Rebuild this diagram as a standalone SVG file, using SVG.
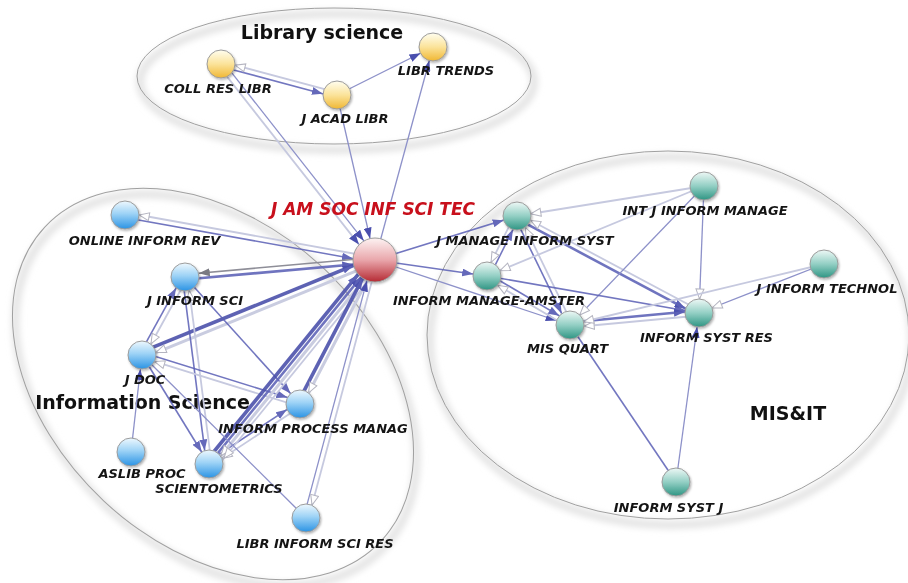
<svg xmlns="http://www.w3.org/2000/svg" width="908" height="583" viewBox="0 0 908 583">
<style>
.lbl{font-family:"DejaVu Sans","Liberation Sans",sans-serif;font-weight:bold;font-style:italic;font-size:13px;fill:#141414;text-anchor:middle}
.grp{font-family:"DejaVu Sans","Liberation Sans",sans-serif;font-weight:bold;font-size:19px;fill:#111;text-anchor:middle}
.ttl{font-family:"DejaVu Sans","Liberation Sans",sans-serif;font-weight:bold;font-style:italic;font-size:17px;fill:#c8101c;text-anchor:middle}
.cl{fill:none;stroke:#a0a0a0;stroke-width:1}
.cs{fill:none;stroke:#e4e4e4;stroke-width:8}
.nd{stroke:#9c9c9c;stroke-width:1;filter:url(#sh)}
line{fill:none}
.eb{stroke:#5a5fb5;stroke-width:1.6;opacity:.85}
.em{stroke:#8d91c9;stroke-width:1.3}
.el{stroke:#c6c9df;stroke-width:1.8}
.eg{stroke:#8e8e98;stroke-width:1.6}
.et{stroke:#4c51ab;stroke-width:3.6;opacity:.9}
.et2{stroke:#6065b8;stroke-width:2.6;opacity:.9}
.el3{stroke:#c9cce0;stroke-width:3}
</style>
<defs>
<filter id="sh" x="-30%" y="-30%" width="160%" height="160%"><feDropShadow dx="1" dy="1.5" stdDeviation="1" flood-color="#000" flood-opacity="0.3"/></filter>
<filter id="bl" x="-10%" y="-10%" width="120%" height="120%"><feGaussianBlur stdDeviation="3"/></filter>
<linearGradient id="gB" x1="0" y1="0" x2="0" y2="1"><stop offset="0" stop-color="#eef8fe"/><stop offset="0.45" stop-color="#9ed3f6"/><stop offset="1" stop-color="#2a93e4"/></linearGradient>
<linearGradient id="gY" x1="0" y1="0" x2="0" y2="1"><stop offset="0" stop-color="#fffef0"/><stop offset="0.5" stop-color="#fbe39a"/><stop offset="1" stop-color="#f0b733"/></linearGradient>
<linearGradient id="gT" x1="0" y1="0" x2="0" y2="1"><stop offset="0" stop-color="#eef8f6"/><stop offset="0.5" stop-color="#93cfc4"/><stop offset="1" stop-color="#2e9583"/></linearGradient>
<linearGradient id="gR" x1="0" y1="0" x2="0" y2="1"><stop offset="0" stop-color="#fdf3f3"/><stop offset="0.5" stop-color="#e9a6ab"/><stop offset="1" stop-color="#b52a33"/></linearGradient>
<marker id="mb14" markerUnits="userSpaceOnUse" markerWidth="12" markerHeight="8" refX="25" refY="4" orient="auto"><path d="M0,0 L11,4 L0,8 z" fill="#4a4fae"/></marker>
<marker id="mb22" markerUnits="userSpaceOnUse" markerWidth="12" markerHeight="8" refX="33" refY="4" orient="auto"><path d="M0,0 L11,4 L0,8 z" fill="#4a4fae"/></marker>
<marker id="mw14" markerUnits="userSpaceOnUse" markerWidth="13" markerHeight="10" refX="25" refY="5" orient="auto"><path d="M1,1 L11,5 L1,9 z" fill="#fff" stroke="#b4b4c0" stroke-width="1"/></marker>
<marker id="mg14" markerUnits="userSpaceOnUse" markerWidth="12" markerHeight="8" refX="25" refY="4" orient="auto"><path d="M0,0 L11,4 L0,8 z" fill="#7a7a82"/></marker>
</defs>
<rect width="908" height="583" fill="#fff"/>

<g id="clusters">
<g filter="url(#bl)" transform="translate(3,6)">
<ellipse class="cs" cx="334" cy="76" rx="197" ry="68"/>
<ellipse class="cs" cx="213" cy="384" rx="230" ry="160" transform="rotate(43 213 384)"/>
<ellipse class="cs" cx="668" cy="335" rx="241" ry="184"/>
</g>
<ellipse class="cl" cx="334" cy="76" rx="197" ry="68"/>
<ellipse class="cl" cx="213" cy="384" rx="230" ry="160" transform="rotate(43 213 384)"/>
<ellipse class="cl" cx="668" cy="335" rx="241" ry="184"/>
<text class="grp" x="322" y="39">Library science</text>
<text class="grp" x="142.5" y="409">Information Science</text>
<text class="grp" x="788" y="420">MIS&amp;IT</text>
</g>

<g id="connectors">
<line class="eb" x1="220.4" y1="66.4" x2="336.4" y2="97.4" marker-end="url(#mb14)"/>
<line class="el" x1="337.6" y1="92.6" x2="221.6" y2="61.6" marker-end="url(#mw14)"/>
<line class="em" x1="337" y1="95" x2="433" y2="47" marker-end="url(#mb14)"/>
<line class="em" x1="375" y1="260" x2="433" y2="47" marker-end="url(#mb14)"/>
<line class="em" x1="223.4" y1="62.1" x2="377.4" y2="258.1" marker-end="url(#mb22)"/>
<line class="el" x1="218.6" y1="65.9" x2="372.6" y2="261.9" marker-end="url(#mb22)"/>
<line class="em" x1="337" y1="95" x2="375" y2="260" marker-end="url(#mb22)"/>

<line class="eb" x1="124.6" y1="217.5" x2="374.6" y2="262.5" marker-end="url(#mb22)"/>
<line class="el" x1="375.4" y1="257.5" x2="125.4" y2="212.5" marker-end="url(#mw14)"/>
<line class="eg" x1="374.8" y1="257.5" x2="184.8" y2="274.5" marker-end="url(#mg14)"/>
<line class="et2" x1="185.2" y1="279.5" x2="375.2" y2="262.5" marker-end="url(#mb22)"/>
<line class="et" x1="140.9" y1="352.2" x2="373.9" y2="257.2" marker-end="url(#mb22)"/>
<line class="el3" x1="376.1" y1="262.8" x2="143.1" y2="357.8" marker-end="url(#mw14)"/>
<line class="eb" x1="139.8" y1="353.8" x2="182.8" y2="275.8" marker-end="url(#mb14)"/>
<line class="el" x1="187.2" y1="278.2" x2="144.2" y2="356.2" marker-end="url(#mw14)"/>
<line class="eb" x1="182.5" y1="277.3" x2="206.5" y2="464.3" marker-end="url(#mb14)"/>
<line class="el" x1="211.5" y1="463.7" x2="187.5" y2="276.7" marker-end="url(#mw14)"/>
<line class="eb" x1="185" y1="277" x2="300" y2="404" marker-end="url(#mb14)"/>
<line class="eb" x1="142.7" y1="352.6" x2="300.7" y2="401.6" marker-end="url(#mb14)"/>
<line class="el" x1="299.3" y1="406.4" x2="141.3" y2="357.4" marker-end="url(#mw14)"/>
<line class="eb" x1="207.6" y1="461.9" x2="298.6" y2="401.9" marker-end="url(#mb14)"/>
<line class="el" x1="301.4" y1="406.1" x2="210.4" y2="466.1" marker-end="url(#mw14)"/>
<line class="et" x1="205.9" y1="461.5" x2="371.9" y2="257.5" marker-end="url(#mb22)"/>
<line class="et2" x1="209" y1="464" x2="375" y2="260" marker-end="url(#mb22)"/>
<line class="el3" x1="378.1" y1="262.5" x2="212.1" y2="466.5" marker-end="url(#mw14)"/>
<line class="el" x1="381.2" y1="265" x2="215.2" y2="469" marker-end="url(#mw14)"/>
<line class="et" x1="297.8" y1="402.8" x2="372.8" y2="258.8" marker-end="url(#mb22)"/>
<line class="el3" x1="377.2" y1="261.2" x2="302.2" y2="405.2" marker-end="url(#mw14)"/>
<line class="em" x1="303.6" y1="517.4" x2="372.6" y2="259.4" marker-end="url(#mb22)"/>
<line class="el" x1="377.4" y1="260.6" x2="308.4" y2="518.6" marker-end="url(#mw14)"/>
<line class="em" x1="142" y1="355" x2="306" y2="518"/>
<line class="em" x1="131" y1="452" x2="142" y2="355" marker-end="url(#mb14)"/>
<line class="eb" x1="142" y1="355" x2="209" y2="464" marker-end="url(#mb14)"/>

<line class="eb" x1="375" y1="260" x2="517" y2="216" marker-end="url(#mb14)"/>
<line class="eb" x1="375" y1="260" x2="487" y2="276" marker-end="url(#mb14)"/>
<line class="em" x1="375" y1="260" x2="570" y2="325" marker-end="url(#mb14)"/>
<line class="eb" x1="489.2" y1="277.1" x2="519.2" y2="217.1" marker-end="url(#mb14)"/>
<line class="el" x1="514.8" y1="214.9" x2="484.8" y2="274.9" marker-end="url(#mw14)"/>
<line class="eb" x1="514.8" y1="217.1" x2="567.8" y2="326.1" marker-end="url(#mb14)"/>
<line class="el" x1="572.2" y1="323.9" x2="519.2" y2="214.9" marker-end="url(#mw14)"/>
<line class="et2" x1="515.8" y1="218.2" x2="697.8" y2="315.2" marker-end="url(#mb14)"/>
<line class="el" x1="700.2" y1="310.8" x2="518.2" y2="213.8" marker-end="url(#mw14)"/>
<line class="el" x1="704" y1="186" x2="517" y2="216" marker-end="url(#mw14)"/>
<line class="el" x1="704" y1="186" x2="487" y2="276" marker-end="url(#mw14)"/>
<line class="em" x1="704" y1="186" x2="570" y2="325" marker-end="url(#mw14)"/>
<line class="em" x1="704" y1="186" x2="699" y2="313" marker-end="url(#mw14)"/>
<line class="eb" x1="488.3" y1="273.9" x2="571.3" y2="322.9" marker-end="url(#mb14)"/>
<line class="el" x1="568.7" y1="327.2" x2="485.7" y2="278.2" marker-end="url(#mw14)"/>
<line class="eb" x1="487" y1="276" x2="699" y2="313" marker-end="url(#mb14)"/>
<line class="et2" x1="569.8" y1="322.5" x2="698.8" y2="310.5" marker-end="url(#mb14)"/>
<line class="el" x1="699.2" y1="315.5" x2="570.2" y2="327.5" marker-end="url(#mw14)"/>
<line class="em" x1="824" y1="264" x2="699" y2="313" marker-end="url(#mw14)"/>
<line class="el" x1="824" y1="264" x2="570" y2="325" marker-end="url(#mw14)"/>
<line class="em" x1="676" y1="482" x2="699" y2="313" marker-end="url(#mb14)"/>
<line class="eb" x1="570" y1="325" x2="676" y2="482"/>
</g>

<g id="n-coll-res-libr"><circle class="nd" cx="221" cy="64" r="14" fill="url(#gY)"/><text class="lbl" x="218" y="93">COLL RES LIBR</text></g>
<g id="n-j-acad-libr"><circle class="nd" cx="337" cy="95" r="14" fill="url(#gY)"/><text class="lbl" x="345" y="123">J ACAD LIBR</text></g>
<g id="n-libr-trends"><circle class="nd" cx="433" cy="47" r="14" fill="url(#gY)"/><text class="lbl" x="446" y="75">LIBR TRENDS</text></g>
<g id="n-j-am-soc"><circle class="nd" cx="375" cy="260" r="22" fill="url(#gR)"/><text class="ttl" x="373" y="215">J AM SOC INF SCI TEC</text></g>
<g id="n-online-inform-rev"><circle class="nd" cx="125" cy="215" r="14" fill="url(#gB)"/><text class="lbl" x="144.5" y="245">ONLINE INFORM REV</text></g>
<g id="n-j-inform-sci"><circle class="nd" cx="185" cy="277" r="14" fill="url(#gB)"/><text class="lbl" x="195" y="305">J INFORM SCI</text></g>
<g id="n-j-doc"><circle class="nd" cx="142" cy="355" r="14" fill="url(#gB)"/><text class="lbl" x="145" y="384">J DOC</text></g>
<g id="n-inform-process-manag"><circle class="nd" cx="300" cy="404" r="14" fill="url(#gB)"/><text class="lbl" x="313" y="433">INFORM PROCESS MANAG</text></g>
<g id="n-aslib-proc"><circle class="nd" cx="131" cy="452" r="14" fill="url(#gB)"/><text class="lbl" x="142" y="478">ASLIB PROC</text></g>
<g id="n-scientometrics"><circle class="nd" cx="209" cy="464" r="14" fill="url(#gB)"/><text class="lbl" x="219" y="493">SCIENTOMETRICS</text></g>
<g id="n-libr-inform-sci-res"><circle class="nd" cx="306" cy="518" r="14" fill="url(#gB)"/><text class="lbl" x="315" y="548">LIBR INFORM SCI RES</text></g>
<g id="n-j-manage-inform-syst"><circle class="nd" cx="517" cy="216" r="14" fill="url(#gT)"/><text class="lbl" x="525" y="245">J MANAGE INFORM SYST</text></g>
<g id="n-int-j-inform-manage"><circle class="nd" cx="704" cy="186" r="14" fill="url(#gT)"/><text class="lbl" x="705" y="215">INT J INFORM MANAGE</text></g>
<g id="n-inform-manage-amster"><circle class="nd" cx="487" cy="276" r="14" fill="url(#gT)"/><text class="lbl" x="489" y="305">INFORM MANAGE-AMSTER</text></g>
<g id="n-j-inform-technol"><circle class="nd" cx="824" cy="264" r="14" fill="url(#gT)"/><text class="lbl" x="827" y="293">J INFORM TECHNOL</text></g>
<g id="n-inform-syst-res"><circle class="nd" cx="699" cy="313" r="14" fill="url(#gT)"/><text class="lbl" x="706.5" y="342">INFORM SYST RES</text></g>
<g id="n-mis-quart"><circle class="nd" cx="570" cy="325" r="14" fill="url(#gT)"/><text class="lbl" x="567.5" y="353">MIS QUART</text></g>
<g id="n-inform-syst-j"><circle class="nd" cx="676" cy="482" r="14" fill="url(#gT)"/><text class="lbl" x="668.5" y="512">INFORM SYST J</text></g>
</svg>
